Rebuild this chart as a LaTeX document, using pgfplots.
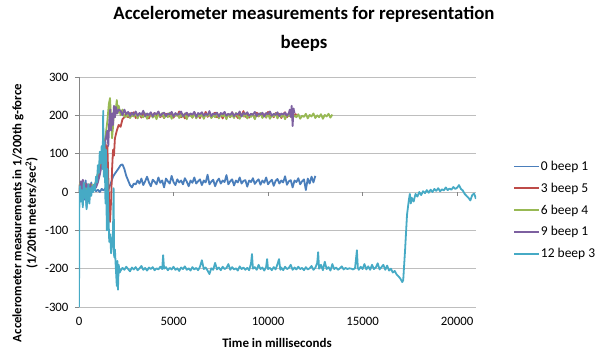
\documentclass[border=0pt]{standalone}
\usepackage{pgfplots}
\pgfplotsset{compat=1.18}
\usepackage{fontspec}
\setmainfont{Carlito}
\definecolor{sA}{HTML}{4A7EBB}
\definecolor{sB}{HTML}{BE4B48}
\definecolor{sC}{HTML}{98B954}
\definecolor{sD}{HTML}{7D60A0}
\definecolor{sE}{HTML}{46AAC5}
\definecolor{gridc}{HTML}{BEBEBE}
\definecolor{axc}{HTML}{868686}
\begin{document}
\begin{tikzpicture}[x=1pt,y=1pt]
\path[use as bounding box] (-79,-52) rectangle (520,307);
\node[font=\bfseries\fontsize{18.8}{22}\selectfont, anchor=base] at (225,287) {Accelerometer measurements for representation};
\node[font=\bfseries\fontsize{18.8}{22}\selectfont, anchor=base] at (225,258) {beeps};
\node[font=\bfseries\fontsize{12.8}{14.5}\selectfont, rotate=90, align=center] at (-54,94) {Accelerometer measurements in 1/200th g-force\\(1/20th meters/sec\textsuperscript{2})};
\node[font=\bfseries\fontsize{13}{15}\selectfont, anchor=base] at (198,-40) {Time in milliseconds};
\begin{axis}[
  at={(0,0)}, anchor=south west,
  scale only axis, width=397pt, height=230pt,
  xmin=0, xmax=21000, ymin=-300, ymax=300,
  xtick={0,5000,10000,15000,20000},
  ytick={-300,-200,-100,0,100,200,300},
  scaled x ticks=false, scaled y ticks=false,
  axis lines*=left, axis line style={-},
  x axis line style={draw=gridc, line width=0.6pt},
  y axis line style={draw=axc, line width=0.6pt},
  xtick style={draw=none},
  ytick style={draw=axc, line width=0.6pt},
  tick align=outside, major tick length=4pt,
  ymajorgrids, major grid style={draw=gridc, line width=0.6pt},
  ticklabel style={font=\fontsize{12.8}{15}\selectfont},
  /pgf/number format/assume math mode=true,
  /pgf/number format/1000 sep={},
  yticklabel style={xshift=-3pt},
  xticklabel style={yshift=-3pt},
  legend style={at={(1.093,0.64)}, anchor=north west, draw=none, fill=none,
    font=\fontsize{13.5}{16}\selectfont, row sep=9pt, inner sep=0pt,
    nodes={inner sep=1pt}},
  legend cell align=left,
  legend image code/.code={\draw[#1] (0pt,0pt) -- (25pt,0pt);},
]
\addplot[sA, line width=1.8pt, line join=round] coordinates {
(0,0)(50,20)(100,-15)(150,25)(200,-30)(250,10)(300,-20)(350,30)(400,-40)(450,5)(500,-25)(550,20)(600,-10)(650,25)(700,0)(800,8)(900,2)(1000,6)(1100,0)(1200,8)(1300,4)(1400,10)(1500,2)(1600,12)(1700,25)(1800,40)(1900,48)(2000,55)(2100,62)(2200,70)(2300,72)(2400,60)(2500,42)(2600,30)(2700,18)(2800,12)(2900,22)
(3000,20)(3100,30)(3200,22)(3300,35)(3400,18)(3500,28)(3600,40)(3700,25)(3800,15)(3900,32)
(4000,27)(4100,20)(4200,38)(4300,24)(4400,30)(4500,12)(4600,35)(4700,28)(4800,22)(4900,42)
(5000,26)(5100,18)(5200,33)(5300,25)(5400,30)(5500,20)(5600,36)(5700,27)(5800,15)(5900,30)
(6000,24)(6100,38)(6200,22)(6300,28)(6400,33)(6500,18)(6600,30)(6700,25)(6800,45)(6900,20)
(7000,27)(7100,32)(7200,15)(7300,28)(7400,35)(7500,22)(7600,30)(7700,26)(7800,44)(7900,20)
(8000,28)(8100,33)(8200,17)(8300,30)(8400,25)(8500,38)(8600,22)(8700,29)(8800,31)(8900,14)
(9000,30)(9100,26)(9200,36)(9300,21)(9400,28)(9500,33)(9600,19)(9700,30)(9800,24)(9900,38)
(10000,20)(10100,27)(10200,32)(10300,16)(10400,29)(10500,34)(10600,22)(10700,30)(10800,25)(10900,41)
(11000,19)(11100,28)(11200,31)(11300,12)(11400,30)(11500,26)(11600,36)(11700,20)(11800,28)(11900,33)
(12000,5)(12100,35)(12200,22)(12300,40)(12400,25)(12500,42)
};
\addlegendentry{0 beep 1}
\addplot[sB, line width=1.8pt, line join=round] coordinates {
(0,0)(50,18)(100,25)(150,8)(200,20)(300,5)(400,18)(500,10)(600,20)(700,12)(800,15)(900,22)(1000,35)(1100,60)(1200,85)(1300,115)(1400,130)(1450,95)(1500,120)(1550,40)(1600,-30)(1640,-78)(1700,-20)(1750,60)(1800,110)(1850,95)(1900,140)(2000,160)(2100,175)(2200,170)(2300,190)(2400,195)
(2500,203)(2600,195)(2700,206)(2800,198)(2900,208)(3000,193)(3100,201)(3200,204)(3300,194)(3400,207)
(3500,197)(3600,202)(3700,192)(3800,205)(3900,200)(4000,206)(4100,196)(4200,209)(4300,195)(4400,202)
(4500,193)(4600,204)(4700,201)(4800,197)(4900,207)(5000,194)(5100,203)(5200,199)(5300,210)(5400,195)
(5500,202)(5600,192)(5700,206)(5800,198)(5900,204)(6000,194)(6100,208)(6200,197)(6300,201)(6400,193)
(6500,205)(6600,198)(6700,209)(6800,196)(6900,203)(7000,194)(7100,202)(7200,207)(7300,195)(7400,200)
(7500,204)(7600,192)(7700,206)(7800,199)(7900,203)(8000,195)(8100,208)(8200,197)(8300,202)(8400,193)
(8500,205)(8600,199)(8700,211)(8800,196)(8900,202)(9000,194)(9100,204)(9200,201)(9300,192)(9400,207)
(9500,197)(9600,205)(9700,198)(9800,203)(9900,194)(10000,209)(10100,196)(10200,201)(10300,195)(10400,206)
(10500,198)(10600,204)(10700,193)(10800,203)(10900,208)(11000,195)(11100,202)(11200,197)(11300,206)(11400,199)(11500,204)
};
\addlegendentry{3 beep 5}
\addplot[sC, line width=1.8pt, line join=round] coordinates {
(0,0)(50,22)(100,8)(150,25)(200,12)(300,22)(400,5)(500,20)(600,10)(700,18)(800,14)(900,28)(1000,50)(1100,75)(1200,100)(1300,115)(1400,145)(1500,185)(1580,230)(1640,245)(1700,190)(1750,140)(1800,170)(1850,215)(1900,195)(2000,240)(2050,205)(2100,225)(2200,200)(2300,215)(2400,197)
(2500,196)(2600,204)(2700,193)(2800,201)(2900,197)(3000,206)(3100,192)(3200,203)(3300,198)(3400,195)
(3500,205)(3600,191)(3700,200)(3800,204)(3900,194)(4000,202)(4100,190)(4200,203)(4300,197)(4400,206)
(4500,193)(4600,200)(4700,195)(4800,207)(4900,191)(5000,202)(5100,198)(5200,204)(5300,193)(5400,201)
(5500,196)(5600,205)(5700,190)(5800,203)(5900,199)(6000,194)(6100,206)(6200,192)(6300,201)(6400,197)
(6500,204)(6600,191)(6700,202)(6800,198)(6900,205)(7000,193)(7100,200)(7200,195)(7300,207)(7400,192)
(7500,203)(7600,197)(7700,201)(7800,190)(7900,204)(8000,196)(8100,202)(8200,193)(8300,206)(8400,198)
(8500,191)(8600,203)(8700,197)(8800,205)(8900,192)(9000,200)(9100,196)(9200,204)(9300,190)(9400,202)
(9500,198)(9600,206)(9700,193)(9800,201)(9900,195)(10000,204)(10100,191)(10200,200)(10300,197)(10400,205)
(10500,192)(10600,202)(10700,196)(10800,203)(10900,190)(11000,201)(11100,198)(11200,205)(11300,193)(11400,200)
(11500,195)(11600,203)(11700,191)(11800,199)(11900,196)(12000,204)(12100,192)(12200,201)(12300,197)(12400,205)
(12500,193)(12600,200)(12700,195)(12800,203)(12900,191)(13000,201)(13100,197)(13200,204)(13300,194)(13400,202)
};
\addlegendentry{6 beep 4}
\addplot[sD, line width=1.8pt, line join=round] coordinates {
(0,0)(50,12)(100,28)(150,5)(200,32)(300,8)(400,22)(500,3)(600,18)(700,8)(800,10)(900,12)(1000,25)(1100,45)(1200,70)(1300,105)(1400,135)(1500,160)(1550,120)(1600,185)(1650,215)(1700,160)(1750,205)(1800,175)(1850,225)(1900,195)(1950,222)(2000,205)(2100,215)
(2200,212)(2300,200)(2400,215)(2500,203)(2600,209)(2700,198)(2800,207)(2900,201)(3000,210)(3100,199)
(3200,206)(3300,202)(3400,212)(3500,198)(3600,205)(3700,201)(3800,208)(3900,197)(4000,206)(4100,203)
(4200,210)(4300,199)(4400,204)(4500,207)(4600,198)(4700,205)(4800,202)(4900,209)(5000,197)(5100,206)
(5200,201)(5300,204)(5400,210)(5500,198)(5600,203)(5700,207)(5800,199)(5900,205)(6000,202)(6100,209)
(6200,196)(6300,206)(6400,203)(6500,208)(6600,199)(6700,204)(6800,201)(6900,211)(7000,198)(7100,205)
(7200,202)(7300,207)(7400,197)(7500,206)(7600,203)(7700,209)(7800,199)(7900,204)(8000,201)(8100,208)
(8200,198)(8300,205)(8400,202)(8500,210)(8600,197)(8700,206)(8800,203)(8900,208)(9000,199)(9100,204)
(9200,201)(9300,209)(9400,198)(9500,205)(9600,202)(9700,207)(9800,197)(9900,206)(10000,203)(10100,210)
(10200,199)(10300,204)(10400,201)(10500,208)(10600,198)(10700,205)(10800,202)(10900,207)(11000,199)(11100,206)
(11150,215)(11200,196)(11250,225)(11300,172)(11350,218)(11400,205)
};
\addlegendentry{9 beep 1}
\addplot[sE, line width=1.8pt, line join=round] coordinates {
(0,-300)(20,-20)(60,15)(100,-25)(150,5)(200,-40)(250,25)(300,-15)(350,10)(400,-45)(450,-5)(500,20)(550,-30)(600,10)(650,-10)(700,15)(750,0)(800,20)(850,5)(900,40)(950,25)(1000,70)(1050,50)(1100,105)(1150,75)(1200,120)(1250,60)(1280,212)(1310,40)(1350,130)(1400,-30)(1430,110)(1470,-100)(1500,60)(1550,-50)(1600,-130)(1650,-110)(1700,-160)(1750,-140)(1800,-100)(1830,10)(1860,-170)(1900,-150)(1950,-200)(2000,-245)(2030,-180)(2060,-255)(2100,-190)(2150,-210)
(2200,-205)(2300,-198)(2400,-203)(2500,-195)(2600,-201)(2700,-207)(2800,-197)(2900,-202)(3000,-196)(3100,-204)
(3200,-199)(3300,-193)(3400,-203)(3500,-198)(3600,-205)(3700,-197)(3800,-201)(3900,-196)(4000,-204)(4100,-199)
(4200,-202)(4300,-195)(4400,-201)(4450,-165)(4500,-200)(4600,-196)(4700,-204)(4800,-198)(4900,-202)(5000,-195)
(5100,-203)(5200,-199)(5300,-206)(5400,-197)(5500,-201)(5600,-194)(5700,-203)(5800,-199)(5900,-205)(6000,-196)
(6100,-202)(6200,-198)(6300,-204)(6400,-195)(6500,-178)(6600,-201)(6700,-197)(6800,-205)(6900,-214)(7000,-199)
(7100,-203)(7200,-185)(7300,-202)(7400,-197)(7500,-204)(7600,-195)(7700,-201)(7800,-198)(7900,-188)(8000,-203)
(8100,-196)(8200,-202)(8300,-199)(8400,-205)(8500,-194)(8600,-201)(8700,-197)(8800,-203)(8900,-198)(9000,-204)
(9100,-186)(9150,-162)(9200,-200)(9300,-196)(9400,-203)(9500,-190)(9600,-201)(9700,-197)(9800,-205)(9900,-195)
(9950,-175)(10000,-201)(10100,-198)(10200,-204)(10300,-196)(10400,-202)(10500,-188)(10580,-175)(10650,-203)(10700,-197)
(10800,-204)(10900,-195)(11000,-201)(11100,-198)(11200,-190)(11300,-203)(11400,-197)(11500,-202)(11600,-195)(11700,-201)
(11800,-198)(11900,-204)(12000,-196)(12100,-202)(12200,-199)(12300,-193)(12400,-203)(12500,-198)(12600,-185)(12650,-157)
(12700,-200)(12800,-190)(12900,-204)(13000,-182)(13100,-201)(13200,-196)(13300,-205)(13400,-188)(13500,-201)(13600,-197)
(13700,-203)(13800,-199)(13900,-194)(14000,-202)(14100,-198)(14200,-201)(14300,-199)(14400,-200)(14500,-202)(14600,-199)
(14700,-152)(14750,-198)(14800,-203)(14900,-195)(15000,-201)(15100,-188)(15200,-202)(15300,-194)(15400,-203)(15500,-190)
(15600,-201)(15700,-197)(15800,-186)(15900,-202)(16000,-196)(16100,-190)(16200,-203)(16300,-192)(16400,-205)(16500,-200)
(16600,-210)(16700,-206)(16800,-215)(16900,-220)(17000,-226)(17100,-235)(17150,-230)(17250,-150)(17350,-60)(17450,-20)
(17500,-5)(17550,-30)(17600,-15)(17700,-25)(17800,-5)(17900,-12)(18000,0)(18100,-8)(18200,2)(18300,-3)
(18400,5)(18500,-2)(18600,6)(18700,0)(18800,8)(18900,3)(19000,10)(19100,2)(19200,7)(19300,4)
(19400,12)(19500,5)(19600,9)(19700,6)(19800,13)(19900,8)(20000,11)(20100,18)(20200,8)(20300,4)
(20400,-5)(20500,-10)(20600,-15)(20700,-22)(20800,-8)(20900,-4)(21000,-18)
};
\addlegendentry{12 beep 3}
\end{axis}
\begin{axis}[
  at={(0,0)}, anchor=south west,
  scale only axis, width=397pt, height=230pt,
  xmin=0, xmax=21000, ymin=-300, ymax=300,
  scaled x ticks=false,
  axis x line=middle, axis y line=none,
  x axis line style={draw=none},
  xtick={5000,10000,15000,20000}, xticklabels={},
  ytick=\empty,
  xtick style={draw=axc, line width=0.6pt, yshift=-2pt},
  major tick length=4pt,
]
\end{axis}
\end{tikzpicture}
\end{document}
